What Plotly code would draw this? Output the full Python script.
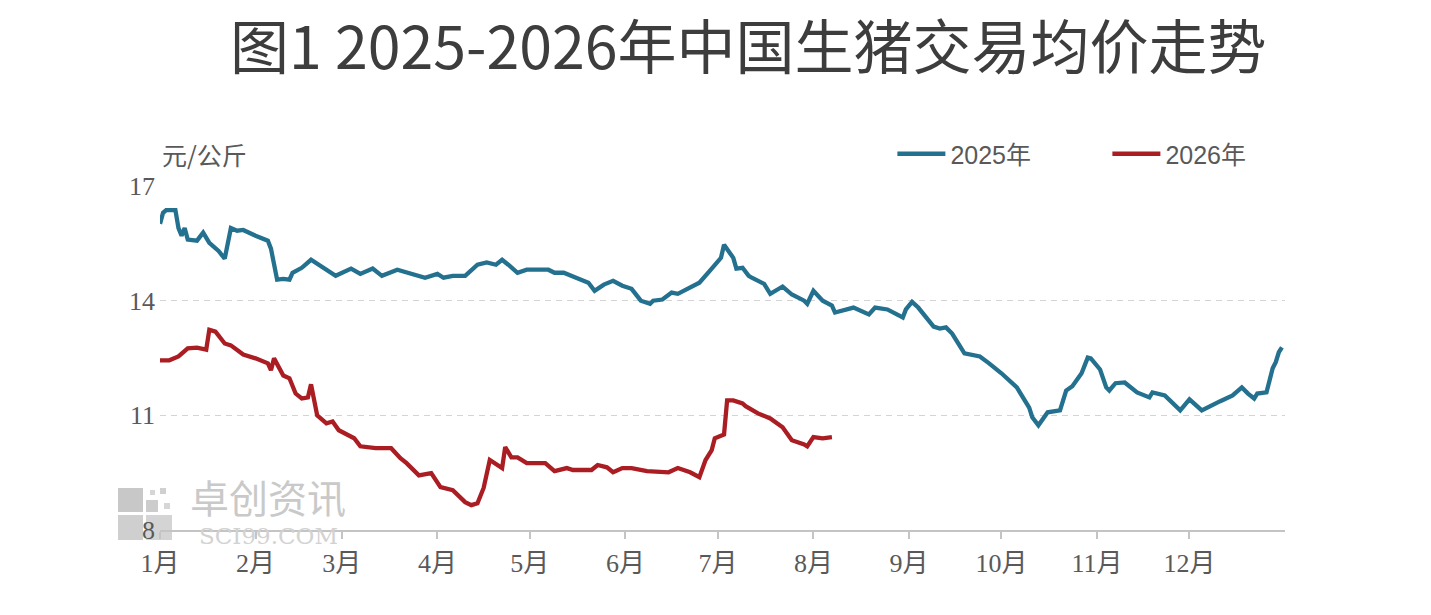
import plotly.graph_objects as go

# ---- data ----
dates_2025 = ["01-01","01-02","01-03","01-06","01-07","01-08","01-09","01-10","01-13","01-15",
              "01-17","01-20","01-22","01-24","01-26","01-28","02-01","02-05","02-06","02-08",
              "02-10","02-12","02-13","02-16","02-19","02-23","02-27","03-04","03-07","03-11",
              "03-14","03-19","03-24","03-28","04-01","04-03","04-06","04-10","04-14","04-17",
              "04-20","04-22","04-24","04-27","04-30","05-07","05-09","05-12","05-15","05-18",
              "05-20","05-22","05-25","05-28","05-31","06-03","06-06","06-09","06-10","06-13",
              "06-16","06-18","06-22","06-25","06-29","07-02","07-03","07-06","07-07","07-09",
              "07-11","07-12","07-16","07-18","07-22","07-25","07-29","07-30","08-01","08-04",
              "08-07","08-08","08-14","08-19","08-21","08-25","08-30","08-31","09-02","09-04",
              "09-09","09-11","09-13","09-15","09-19","09-24","09-27","10-01","10-06","10-09",
              "10-10","10-11","10-12","10-13","10-16","10-20","10-22","10-24","10-27","10-29",
              "10-30","11-02","11-04","11-05","11-07","11-10","11-14","11-18","11-19","11-23",
              "11-28","12-01","12-05","12-07","12-11","12-15","12-18","12-20","12-22","12-23",
              "12-26","12-28","12-29","12-30","12-31"]
price_2025 = [16.01,16.30,16.37,16.37,15.90,15.70,15.90,15.60,15.57,15.78,
              15.51,15.30,15.10,15.90,15.83,15.85,15.70,15.57,15.36,14.55,
              14.57,14.55,14.73,14.86,15.07,14.86,14.65,14.84,14.70,14.84,
              14.65,14.81,14.70,14.60,14.70,14.60,14.65,14.65,14.94,15.00,
              14.94,15.07,14.94,14.73,14.81,14.81,14.73,14.73,14.63,14.52,
              14.47,14.26,14.42,14.52,14.39,14.31,14.00,13.92,14.00,14.03,
              14.21,14.18,14.34,14.47,14.84,15.12,15.46,15.12,14.84,14.86,
              14.65,14.60,14.44,14.18,14.37,14.16,14.00,13.92,14.26,14.00,
              13.87,13.69,13.82,13.64,13.82,13.77,13.56,13.77,13.97,13.82,
              13.32,13.27,13.30,13.14,12.62,12.54,12.36,12.10,11.73,11.34,
              11.20,10.95,10.82,10.74,11.08,11.13,11.65,11.76,12.10,12.51,
              12.49,12.20,11.73,11.65,11.84,11.86,11.60,11.47,11.60,11.52,
              11.13,11.42,11.13,11.20,11.37,11.52,11.73,11.57,11.44,11.57,
              11.60,12.23,12.39,12.65,12.78]

dates_2026 = ["01-01","01-04","01-07","01-10","01-13","01-16","01-17","01-19","01-22","01-24",
              "01-28","02-01","02-05","02-06","02-07","02-10","02-12","02-14","02-16","02-18",
              "02-19","02-21","02-24","02-26","02-28","03-02","03-05","03-07","03-12","03-17",
              "03-20","03-22","03-26","03-30","04-02","04-06","04-10","04-12","04-14","04-16",
              "04-18","04-22","04-23","04-25","04-27","04-30","05-06","05-09","05-13","05-15",
              "05-21","05-23","05-26","05-28","05-31","06-03","06-08","06-15","06-18","06-22",
              "06-25","06-27","06-29","06-30","07-03","07-04","07-06","07-09","07-10","07-14",
              "07-18","07-22","07-25","07-29","07-30","08-01","08-04","08-07"]
price_2026 = [12.44,12.44,12.54,12.75,12.77,12.72,13.24,13.19,12.88,12.83,
              12.59,12.49,12.36,12.18,12.49,12.04,11.97,11.57,11.44,11.47,
              11.81,11.00,10.79,10.84,10.61,10.53,10.40,10.19,10.14,10.14,
              9.88,9.75,9.43,9.49,9.12,9.04,8.73,8.65,8.70,9.10,
              9.83,9.62,10.17,9.90,9.90,9.75,9.75,9.54,9.62,9.57,
              9.57,9.70,9.64,9.51,9.62,9.62,9.54,9.51,9.62,9.51,
              9.38,9.83,10.09,10.40,10.50,11.39,11.39,11.31,11.24,11.05,
              10.92,10.69,10.35,10.24,10.19,10.43,10.40,10.43]

month_starts = ["01-01","02-01","03-01","04-01","05-01","06-01","07-01",
                "08-01","09-01","10-01","11-01","12-01"]
month_labels = ["1月","2月","3月","4月","5月","6月","7月","8月","9月","10月","11月","12月"]
y_ticks = [8, 11, 14, 17]

title_text = "图1 2025-2026年中国生猪交易均价走势"
unit_text = "元/公斤"

BASE = "2025-"  # common calendar year used for the month axis

BLUE = "#23708f"
RED = "#aa1d22"
GRAY_TXT = "#595959"

fig = go.Figure()
fig.add_trace(go.Scatter(x=[BASE + d for d in dates_2025], y=price_2025, mode="lines",
                         name="2025年", line=dict(color=BLUE, width=4.3)))
fig.add_trace(go.Scatter(x=[BASE + d for d in dates_2026], y=price_2026, mode="lines",
                         name="2026年", line=dict(color=RED, width=4.3)))

L, T, PW, PH = 152, 178, 1125, 344
fig.update_layout(
    width=1431, height=615,
    margin=dict(l=L, r=1431 - L - PW, t=T, b=615 - T - PH),
    paper_bgcolor="white", plot_bgcolor="white",
    showlegend=True,
    legend=dict(orientation="h", x=0.651, xanchor="left", y=1.093, yanchor="middle",
                font=dict(family="Liberation Sans, Noto Sans CJK SC", size=25, color=GRAY_TXT),
                itemwidth=48, entrywidth=152, bgcolor="rgba(0,0,0,0)"),
    xaxis=dict(type="date", range=[BASE + "01-01", "2026-01-01"],
               tickvals=[BASE + m for m in month_starts], ticktext=month_labels,
               ticks="outside", ticklen=7, tickcolor="#c4c4c4", tickwidth=1.5,
               ticklabelstandoff=2,
               showline=True, linecolor="#c4c4c4", linewidth=1.5,
               showgrid=False, zeroline=False,
               tickfont=dict(family="Liberation Serif, Noto Sans CJK SC", size=26, color=GRAY_TXT)),
    yaxis=dict(range=[8, 17], tickvals=y_ticks, ticks="", showline=False,
               showgrid=True, gridcolor="#d4d4d4", griddash="6px,5px", gridwidth=1.3,
               zeroline=False, ticklabelstandoff=4,
               tickfont=dict(family="Liberation Serif", size=26, color=GRAY_TXT)),
)

# chart title (as an annotation above the plot)
fig.add_annotation(text=title_text, xref="paper", yref="paper",
                   x=(740 - L) / PW, y=(T + PH - 36) / PH,
                   xanchor="center", yanchor="middle", showarrow=False,
                   font=dict(family="Noto Sans CJK SC", size=59, color="#3d3d3d"))

# unit label
fig.add_annotation(text=unit_text, xref="paper", yref="paper", x=0.0, y=1.093,
                   xanchor="left", yanchor="middle", showarrow=False,
                   font=dict(family="Noto Sans CJK SC", size=25, color=GRAY_TXT))

# watermark
fig.add_annotation(text="卓创资讯", xref="paper", yref="paper", x=0.096, y=0.098,
                   xanchor="center", yanchor="middle", showarrow=False,
                   font=dict(family="Noto Sans CJK SC", size=39, color="#c9c9c9"))
fig.add_annotation(text="SCI99.COM", xref="paper", yref="paper", x=0.096, y=-0.017,
                   xanchor="center", yanchor="middle", showarrow=False,
                   font=dict(family="DejaVu Serif", size=23, color="#d2d2d2"))

def px(x):
    return (x - 160) / PW
def py(y):
    return (530 - y) / PH
for (x0, y0, x1, y1, c) in [(118, 488, 143, 512, "#c8c8c8"), (118, 515, 143, 540, "#cfcfcf"),
                            (146, 515, 172, 540, "#d4d4d4"), (146, 500, 158, 512, "#cccccc"),
                            (160, 488, 166, 494, "#d0d0d0"), (150, 490, 155, 495, "#d6d6d6"),
                            (164, 503, 170, 509, "#d6d6d6")]:
    fig.add_shape(type="rect", xref="paper", yref="paper", x0=px(x0), x1=px(x1),
                  y0=py(y1), y1=py(y0), fillcolor=c, line=dict(width=0), layer="below")

fig.write_html("out.html")
